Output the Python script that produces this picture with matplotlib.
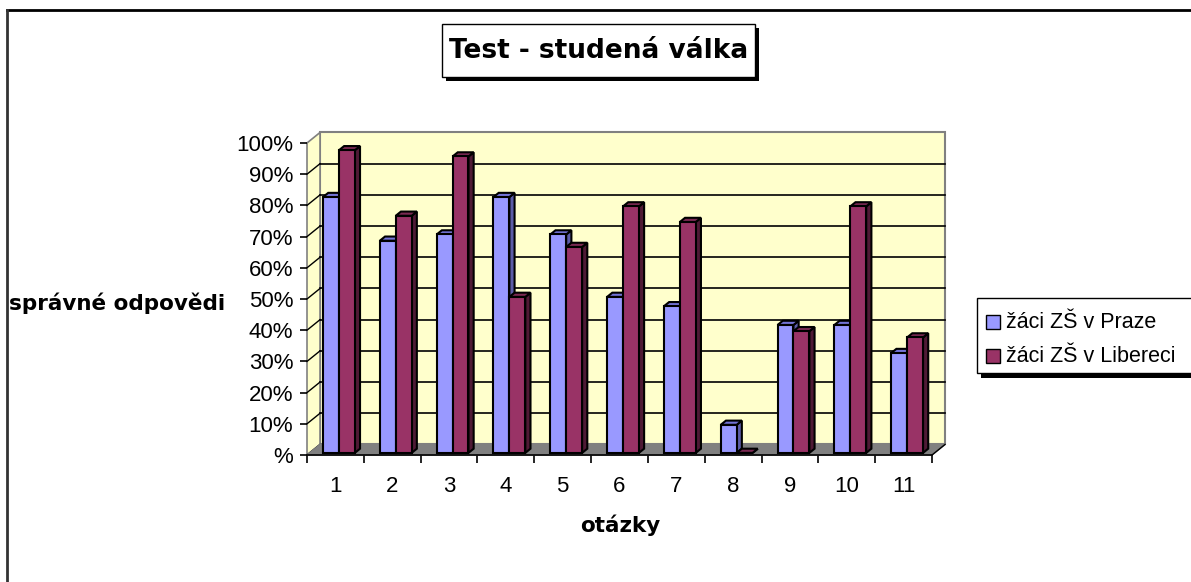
import matplotlib.pyplot as plt
from matplotlib.patches import Polygon, Rectangle
from matplotlib.lines import Line2D

# data
questions = [str(i) for i in range(1, 12)]
praha = [82, 68, 70, 82, 70, 50, 47, 9, 41, 41, 32]
liberec = [97, 76, 95, 50, 66, 79, 74, 0, 39, 79, 37]
series_names = ["žáci ZŠ v Praze", "žáci ZŠ v Libereci"]
y_ticks = list(range(0, 101, 10))
y_labels = ["%"] + [f"{v}%" for v in y_ticks[1:]]

W, H = 1191, 582
FONT = "Liberation Sans"
TITLE_FONT = "DejaVu Sans"

# fake 3D depth offset (data units) for full depth of the box
DX, DY = 0.229, 3.37

front_cols = ["#9999FF", "#993366"]
top_cols = ["#7373D6", "#7A2952"]
side_cols = ["#5C5CA8", "#4F1A35"]


def proj(x, y, z):
    return (x + z * DX, y + z * DY)


def fx(px):
    return px / W


def fy(py):
    return 1 - py / H


def main() -> None:
    fig = plt.figure(figsize=(W / 100, H / 100), dpi=100)
    fig.patch.set_facecolor("white")

    ax = fig.add_axes([fx(307), fy(455), 625 / W, 312 / H])
    n = len(questions)
    ax.set_xlim(0, n)
    ax.set_ylim(0, 100)
    ax.set_facecolor("none")

    # walls and floor
    back = [proj(0, 0, 1), proj(n, 0, 1), proj(n, 100, 1), proj(0, 100, 1)]
    side = [proj(0, 0, 0), proj(0, 0, 1), proj(0, 100, 1), proj(0, 100, 0)]
    floor = [proj(0, 0, 0), proj(n, 0, 0), proj(n, 0, 1), proj(0, 0, 1)]
    ax.add_patch(Polygon(back, closed=True, fc="#FFFFCC", ec="#808080",
                         lw=1.5, clip_on=False, zorder=1))
    ax.add_patch(Polygon(side, closed=True, fc="#FFFFCC", ec="#808080",
                         lw=1.2, clip_on=False, zorder=1))
    for v in y_ticks[1:-1]:
        x0, y0 = proj(0, v, 1)
        x1, y1 = proj(n, v, 1)
        ax.plot([x0, x1], [y0, y1], color="black", lw=1.2,
                clip_on=False, zorder=2)
    for v in y_ticks[:-1]:
        x0, y0 = proj(0, v, 0)
        x1, y1 = proj(0, v, 1)
        ax.plot([x0, x1], [y0, y1], color="black", lw=1.0,
                clip_on=False, zorder=2)
    ax.add_patch(Polygon(floor, closed=True, fc="#808080", ec="#808080",
                         lw=1, clip_on=False, zorder=3))
    xa, ya = proj(n, 0, 0)
    xb, yb = proj(n, 0, 1)
    ax.plot([xa, xb], [ya, yb], color="black", lw=1, clip_on=False, zorder=3)

    # bars
    w = 0.28
    z0, z1 = 0.2, 0.6
    for i in range(n):
        for s, vals in enumerate([praha, liberec]):
            v = vals[i]
            x0 = i + 0.236 + s * w
            x1 = x0 + w
            front = [proj(x0, 0, z0), proj(x1, 0, z0),
                     proj(x1, v, z0), proj(x0, v, z0)]
            rside = [proj(x1, 0, z0), proj(x1, 0, z1),
                     proj(x1, v, z1), proj(x1, v, z0)]
            top = [proj(x0, v, z0), proj(x1, v, z0),
                   proj(x1, v, z1), proj(x0, v, z1)]
            for pts, col in [(rside, side_cols[s]), (top, top_cols[s]),
                             (front, front_cols[s])]:
                ax.add_patch(Polygon(pts, closed=True, fc=col, ec="black",
                                     lw=1.5, joinstyle="miter",
                                     clip_on=False, zorder=4))

    # axes, ticks, labels
    for sp in ["top", "right", "left"]:
        ax.spines[sp].set_visible(False)
    ax.spines["bottom"].set_color("black")
    ax.spines["bottom"].set_linewidth(1.2)
    ax.spines["bottom"].set_zorder(5)

    ax.set_yticks(y_ticks)
    ax.set_yticklabels(y_labels, fontsize=16, family=FONT)
    ax.tick_params(axis="y", length=5, width=1.2, pad=5, colors="black")

    ax.set_xticks(range(n + 1))
    ax.set_xticklabels([])
    ax.tick_params(axis="x", which="major", length=6, width=1.2)
    ax.set_xticks([i + 0.5 for i in range(n)], minor=True)
    ax.set_xticklabels(questions, minor=True, fontsize=16, family=FONT)
    ax.tick_params(axis="x", which="minor", length=0, pad=15)

    fig.text(fx(117), fy(303), "správné odpovědi", fontsize=15.5,
             fontweight="bold", family=TITLE_FONT, ha="center", va="center")
    fig.text(fx(620), fy(525), "otázky", fontsize=15.5,
             fontweight="bold", family=TITLE_FONT, ha="center", va="center")

    # title box with shadow
    fig.add_artist(Rectangle((fx(446), fy(81)), (313) / W, 53 / H,
                             transform=fig.transFigure, fc="black", ec="none"))
    fig.add_artist(Rectangle((fx(442), fy(77)), (313) / W, 53 / H,
                             transform=fig.transFigure, fc="white",
                             ec="black", lw=1))
    fig.text(fx(599), fy(51), "Test - studená válka", fontsize=19,
             fontweight="heavy", family=TITLE_FONT, ha="center", va="center")

    # legend box with shadow
    fig.add_artist(Rectangle((fx(981), fy(378)), 220 / W, 75 / H,
                             transform=fig.transFigure, fc="black", ec="none"))
    fig.add_artist(Rectangle((fx(977), fy(373)), 220 / W, 75 / H,
                             transform=fig.transFigure, fc="white",
                             ec="black", lw=1))
    for s, (name, py) in enumerate(zip(series_names, [322, 356])):
        fig.add_artist(Rectangle((fx(986), fy(py + 7)), 14 / W, 14 / H,
                                 transform=fig.transFigure,
                                 fc=front_cols[s], ec="black", lw=1))
        fig.text(fx(1006), fy(py), name, fontsize=15.5, family=FONT,
                 ha="left", va="center")

    # chart area border (top and left edges)
    fig.add_artist(Line2D([fx(7), 1], [fy(10), fy(10)],
                          transform=fig.transFigure, color="black", lw=2))
    fig.add_artist(Line2D([fx(7), fx(7)], [fy(10), 0],
                          transform=fig.transFigure, color="#333333", lw=2))

    fig.savefig("out.png", dpi=100)


if __name__ == "__main__":
    main()
